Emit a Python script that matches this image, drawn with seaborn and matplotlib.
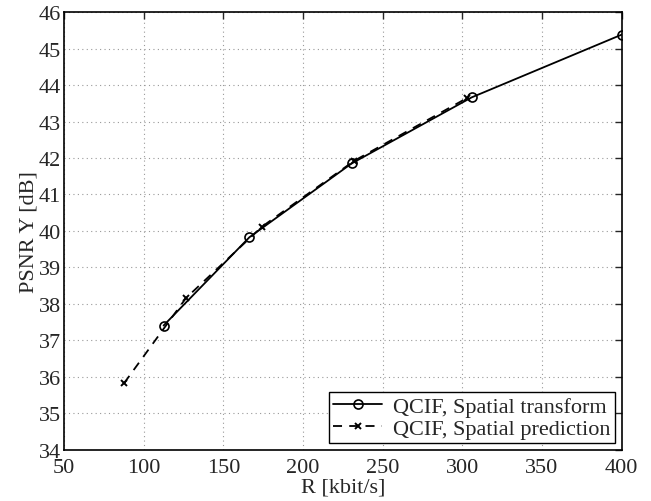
import pandas as pd
import matplotlib
matplotlib.use('Agg')
import matplotlib.pyplot as plt
import seaborn as sns

rate_transform = [112.5, 166.4, 230.5, 305.8, 400.0]
psnr_transform = [37.41, 39.83, 41.85, 43.66, 45.38]

rate_prediction = [87.7, 126.5, 174.3, 232.0, 302.8]
psnr_prediction = [35.83, 38.16, 40.12, 41.92, 43.64]

x_ticks = [50, 100, 150, 200, 250, 300, 350, 400]
y_ticks = list(range(34, 47))

label_transform = 'QCIF, Spatial transform'
label_prediction = 'QCIF, Spatial prediction'

df_t = pd.DataFrame({'rate': rate_transform, 'psnr': psnr_transform})
df_p = pd.DataFrame({'rate': rate_prediction, 'psnr': psnr_prediction})

sns.set_style('white')
plt.rcParams['font.family'] = ['Liberation Serif', 'DejaVu Serif']
plt.rcParams['font.size'] = 16

fig = plt.figure(figsize=(6.51, 5.02), dpi=100)
ax = fig.add_axes([0.0983, 0.1016, 0.8567, 0.8725])

sns.lineplot(x='rate', y='psnr', data=df_t, ax=ax, color='black', lw=1.3,
             marker='o', markersize=6.5, markerfacecolor='none',
             markeredgecolor='black', markeredgewidth=1.2, label=label_transform)
sns.lineplot(x='rate', y='psnr', data=df_p, ax=ax, color='black', lw=1.3,
             linestyle=(0, (5, 4)), marker='x', markersize=5,
             markeredgecolor='black', markeredgewidth=1.4,
             label=label_prediction)

ax.set_xlim(50, 400)
ax.set_ylim(34, 46)
ax.set_xticks(x_ticks)
ax.set_yticks(y_ticks)
ax.grid(True, linestyle=(0, (1, 3)), color='#999999', lw=0.8)
ax.tick_params(direction='in', top=True, right=True, length=5, width=1,
               labelsize=16)
ax.tick_params(axis='x', pad=6)
ax.tick_params(axis='y', pad=2)
for sp in ax.spines.values():
    sp.set_color('black')
    sp.set_linewidth(1.2)

ax.set_xlabel('R [kbit/s]', fontsize=16, labelpad=0)
ax.set_ylabel('PSNR Y [dB]', fontsize=16, labelpad=0)

leg = ax.legend(loc='lower right', fontsize=16, frameon=True, fancybox=False,
                framealpha=1, edgecolor='black', borderpad=0.2,
                labelspacing=0.05, handlelength=2.2, handletextpad=0.5,
                borderaxespad=0.3)
leg.get_frame().set_linewidth(1.0)

fig.savefig('out.png', dpi=100)
